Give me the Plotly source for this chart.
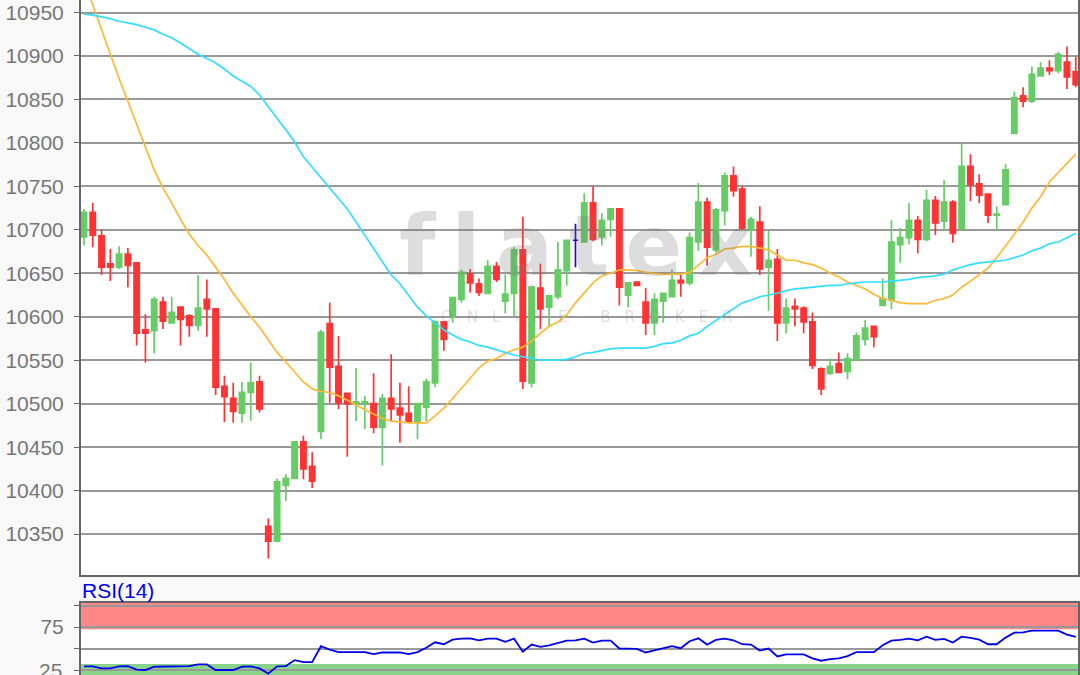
import plotly.graph_objects as go

opens = [10692, 10720, 10693, 10661, 10657, 10672, 10662, 10585, 10584, 10617, 10593, 10611, 10601, 10590, 10620, 10609,
         10520, 10506, 10489, 10513, 10525, 10359, 10342, 10406, 10414, 10456, 10428, 10468, 10592, 10543, 10512, 10500,
         10501, 10500, 10473, 10506, 10495, 10489, 10479, 10496, 10524, 10594, 10600, 10620, 10649, 10638, 10627, 10658,
         10618, 10627, 10677, 10524, 10633, 10611, 10623, 10653, 10688, 10686, 10731, 10692, 10712, 10724, 10625, 10640,
         10617, 10593, 10618, 10623, 10642, 10639, 10686, 10732, 10677, 10722, 10762, 10747, 10700, 10709, 10657, 10666,
         10593, 10612, 10610, 10594, 10540, 10535, 10546, 10537, 10550, 10574, 10589, 10613, 10619, 10683, 10691, 10711,
         10689, 10734, 10710, 10732, 10701, 10773, 10753, 10741, 10717, 10729, 10811, 10854, 10848, 10877, 10886, 10883,
         10893, 10882]
highs = [10724, 10731, 10700, 10678, 10681, 10679, 10663, 10603, 10623, 10623, 10623, 10611, 10603, 10648, 10643, 10610,
         10532, 10524, 10525, 10547, 10532, 10368, 10414, 10419, 10456, 10463, 10444, 10585, 10616, 10578, 10512, 10541,
         10509, 10535, 10511, 10557, 10524, 10520, 10500, 10529, 10596, 10594, 10622, 10654, 10655, 10644, 10665, 10663,
         10649, 10680, 10715, 10636, 10661, 10625, 10686, 10688, 10707, 10742, 10750, 10719, 10725, 10724, 10640, 10640,
         10633, 10627, 10628, 10654, 10648, 10697, 10754, 10737, 10725, 10766, 10773, 10750, 10715, 10727, 10699, 10678,
         10621, 10621, 10612, 10605, 10542, 10552, 10559, 10558, 10582, 10596, 10589, 10644, 10711, 10702, 10731, 10716,
         10746, 10739, 10757, 10734, 10801, 10787, 10764, 10742, 10727, 10776, 10859, 10864, 10888, 10893, 10895, 10905,
         10911, 10899]
lows = [10682, 10680, 10648, 10641, 10655, 10634, 10567, 10547, 10558, 10586, 10593, 10567, 10577, 10584, 10577, 10510,
        10479, 10478, 10478, 10480, 10490, 10322, 10342, 10388, 10413, 10413, 10403, 10459, 10501, 10494, 10439, 10480,
        10471, 10466, 10429, 10479, 10455, 10479, 10459, 10480, 10519, 10561, 10593, 10616, 10628, 10624, 10627, 10640,
        10604, 10601, 10517, 10519, 10586, 10588, 10620, 10636, 10657, 10685, 10687, 10682, 10692, 10613, 10611, 10636,
        10579, 10579, 10593, 10623, 10623, 10636, 10676, 10659, 10674, 10705, 10738, 10700, 10669, 10648, 10607, 10572,
        10581, 10589, 10581, 10540, 10510, 10533, 10535, 10528, 10550, 10567, 10565, 10613, 10609, 10662, 10683, 10673,
        10687, 10694, 10700, 10685, 10700, 10733, 10731, 10708, 10700, 10729, 10811, 10841, 10846, 10876, 10878, 10880,
        10862, 10864]
closes = [10720, 10694, 10657, 10657, 10672, 10659, 10581, 10581, 10620, 10595, 10605, 10597, 10590, 10610, 10609, 10519,
          10508, 10491, 10513, 10524, 10494, 10342, 10410, 10414, 10456, 10425, 10411, 10582, 10542, 10501, 10500, 10502,
          10502, 10473, 10506, 10494, 10487, 10479, 10500, 10525, 10594, 10574, 10622, 10651, 10639, 10628, 10658, 10643,
          10626, 10677, 10526, 10634, 10609, 10624, 10654, 10688, 10688, 10731, 10689, 10711, 10724, 10634, 10639, 10636,
          10593, 10620, 10627, 10642, 10639, 10691, 10732, 10680, 10723, 10762, 10745, 10702, 10712, 10655, 10665, 10593,
          10610, 10609, 10594, 10544, 10517, 10543, 10536, 10552, 10578, 10587, 10577, 10621, 10686, 10691, 10711, 10689,
          10734, 10708, 10732, 10696, 10773, 10752, 10740, 10717, 10718, 10769, 10852, 10848, 10879, 10886, 10883, 10902,
          10876, 10867]
ma_fast = [10987, 10958, 10929, 10902, 10874, 10848, 10821, 10794, 10769, 10748, 10731, 10712, 10695, 10682, 10671, 10657,
           10643, 10627, 10613, 10600, 10588, 10573, 10559, 10548, 10536, 10525, 10517, 10514, 10513, 10509, 10504, 10498,
           10493, 10488, 10483, 10480, 10479, 10478, 10478, 10478, 10486, 10495, 10506, 10518, 10530, 10541, 10549, 10552,
           10558, 10562, 10565, 10572, 10581, 10589, 10594, 10602, 10616, 10627, 10639, 10647, 10650, 10654, 10654, 10653,
           10651, 10650, 10649, 10649, 10649, 10651, 10660, 10668, 10672, 10678, 10679, 10681, 10681, 10679, 10677, 10671,
           10665, 10665, 10662, 10660, 10656, 10650, 10646, 10640, 10636, 10632, 10626, 10621, 10619, 10616, 10615, 10615,
           10615, 10619, 10621, 10625, 10634, 10641, 10648, 10656, 10668, 10681, 10695, 10709, 10725, 10738, 10755, 10766,
           10777, 10787]
ma_slow = [10948, 10947, 10945, 10943, 10940, 10938, 10936, 10933, 10930, 10925, 10921, 10915, 10909, 10902, 10897, 10892,
           10885, 10877, 10871, 10865, 10855, 10842, 10829, 10815, 10801, 10784, 10772, 10760, 10747, 10735, 10724, 10709,
           10694, 10679, 10663, 10648, 10638, 10625, 10611, 10601, 10593, 10585, 10579, 10574, 10571, 10567, 10565, 10562,
           10559, 10556, 10554, 10552, 10550, 10550, 10550, 10551, 10554, 10558, 10559, 10561, 10563, 10564, 10564, 10564,
           10564, 10566, 10569, 10570, 10573, 10578, 10581, 10589, 10596, 10603, 10610, 10616, 10619, 10623, 10625, 10627,
           10630, 10632, 10633, 10634, 10635, 10636, 10636, 10638, 10639, 10640, 10640, 10640, 10641, 10642, 10643, 10645,
           10646, 10647, 10649, 10654, 10657, 10660, 10662, 10663, 10664, 10665, 10668, 10671, 10676, 10679, 10684, 10686,
           10691, 10696]
rsi = [29.2, 29.2, 26.9, 26.9, 29.2, 29.6, 25.4, 25, 28.8, 29.2, 29.2, 29.2, 29.6, 31.5, 31.5, 25, 25, 25, 28.8, 29.2,
       26.9, 20.8, 29.2, 29.6, 36.5, 34.2, 34.2, 52.7, 48.8, 45.8, 45.8, 45.8, 45.8, 43.5, 45.4, 45.4, 45.4, 43.5, 45.8,
       50.8, 57.3, 55, 60.4, 61.5, 61.9, 59.6, 61.5, 61.5, 57.7, 61.5, 46.2, 54.6, 51.9, 53.8, 56.5, 59.2, 59.6, 61.5,
       56.9, 59.2, 59.2, 50, 50, 49.6, 45.4, 47.7, 50.4, 52.7, 50.4, 58.5, 61.9, 54.6, 60, 61.5, 59.6, 55, 54.6, 47.7, 50,
       40.8, 43.1, 43.1, 43.1, 38.5, 35.8, 37.7, 38.5, 41.2, 45.8, 45.8, 45.8, 53.8, 59.2, 60, 61.5, 59.6, 63.8, 60, 61.2,
       56.9, 63.8, 62.3, 60.4, 55, 55, 62.7, 68.5, 68.8, 70.8, 70.8, 70.8, 70.8, 66.2, 63.5]
price_ticks = [10350, 10400, 10450, 10500, 10550, 10600, 10650, 10700, 10750, 10800, 10850, 10900, 10950]
rsi_ticks = [25, 50, 75, 100]
rsi_tick_labels = ["", "", "75", ""]
rsi_high_band = [72.3, 103]
rsi_low_band = [0, 32]

GREEN = "#66CC66"
RED = "#FF3333"
GRID = "#999999"
FRAME = "#666666"
TEXT = "#777777"

bars = list(range(len(opens)))
# the one flat candle is drawn apart, in blue
doji = [i for i in bars if opens[i] == closes[i]]
normal = [i for i in bars if opens[i] != closes[i]]

fig = go.Figure()
fig.add_trace(go.Candlestick(
    x=normal,
    open=[opens[i] for i in normal],
    high=[highs[i] for i in normal],
    low=[lows[i] for i in normal],
    close=[closes[i] for i in normal],
    whiskerwidth=0,
    increasing=dict(line=dict(color=GREEN, width=1.7), fillcolor=GREEN),
    decreasing=dict(line=dict(color=RED, width=1.7), fillcolor=RED),
))
fig.add_trace(go.Candlestick(
    x=doji,
    open=[opens[i] for i in doji],
    high=[highs[i] for i in doji],
    low=[lows[i] for i in doji],
    close=[closes[i] for i in doji],
    whiskerwidth=0,
    increasing=dict(line=dict(color="#3300CC", width=1.7), fillcolor="#3300CC"),
    decreasing=dict(line=dict(color="#3300CC", width=1.7), fillcolor="#3300CC"),
))
fig.add_trace(go.Scatter(x=bars, y=ma_fast, mode="lines", line=dict(color="#FFB833", width=1.7)))
fig.add_trace(go.Scatter(x=bars, y=ma_slow, mode="lines", line=dict(color="#33DDFF", width=1.7)))
fig.add_trace(go.Scatter(x=bars, y=rsi, mode="lines", line=dict(color="#0000EE", width=1.8), xaxis="x2", yaxis="y2"))

fig.add_shape(type="rect", xref="x2 domain", yref="y2", x0=0, x1=1, y0=rsi_high_band[0], y1=rsi_high_band[1],
              fillcolor="rgba(255,0,0,0.47)", line_width=0, layer="below")
fig.add_shape(type="rect", xref="x2 domain", yref="y2", x0=0, x1=1, y0=rsi_low_band[0], y1=rsi_low_band[1],
              fillcolor="rgba(30,170,30,0.52)", line_width=0, layer="below")

fig.add_annotation(text="RSI(14)", xref="paper", yref="paper", x=0.0745, y=0.105, xanchor="left", yanchor="bottom",
                   showarrow=False, font=dict(family="Liberation Sans", size=21, color="#0000EE"))
# the 25 label runs off the bottom of the page, the axis would drop it
fig.add_annotation(text="25", xref="paper", yref="paper", x=0.0595, y=0.0074, xanchor="right", yanchor="middle",
                   showarrow=False, font=dict(family="Liberation Sans", size=21, color=TEXT))
fig.add_annotation(text='<span style="letter-spacing:16px">flatex</span>', xref="paper", yref="paper", x=0.54, y=0.635,
                   showarrow=False, font=dict(family="DejaVu Sans", size=84, weight=700, color="rgba(120,120,120,0.25)"))
fig.add_annotation(text='<span style="letter-spacing:14px">ONLINE BROKER</span>', xref="paper", yref="paper", x=0.55, y=0.53,
                   showarrow=False, font=dict(family="DejaVu Sans", size=15, color="rgba(120,120,120,0.25)"))

x_common = dict(domain=[0.075, 0.9985], range=[-0.34, 113.3], showgrid=False, showticklabels=False, ticks="",
                showline=True, linecolor=FRAME, linewidth=2, zeroline=False)
y_common = dict(showgrid=True, gridcolor=GRID, gridwidth=2, showline=True, linecolor=FRAME, linewidth=2, mirror=True,
                ticks="outside", ticklen=5, tickcolor=FRAME, ticklabelstandoff=6, zeroline=False, tickformat="d",
                tickfont=dict(family="Liberation Sans", size=21, color=TEXT))

fig.update_layout(
    width=1080,
    height=675,
    margin=dict(l=0, r=0, t=0, b=0),
    paper_bgcolor="#F8F8F8",
    plot_bgcolor="#FFFFFF",
    showlegend=False,
    boxgap=0.15,
    xaxis=dict(rangeslider=dict(visible=False), **x_common),
    xaxis2=dict(anchor="y2", mirror=True, **x_common),
    yaxis=dict(domain=[0.148, 1], range=[10302.8, 10964.4], tickvals=price_ticks, **y_common),
    yaxis2=dict(domain=[0, 0.1067], range=[19.2, 103], tickvals=rsi_ticks, ticktext=rsi_tick_labels, anchor="x2", **y_common),
)

# the page's default body margin would push the chart 8px off
fig.write_html("out.html", config=dict(displayModeBar=False),
               post_script="document.body.style.margin='0';document.body.style.overflow='hidden';")
